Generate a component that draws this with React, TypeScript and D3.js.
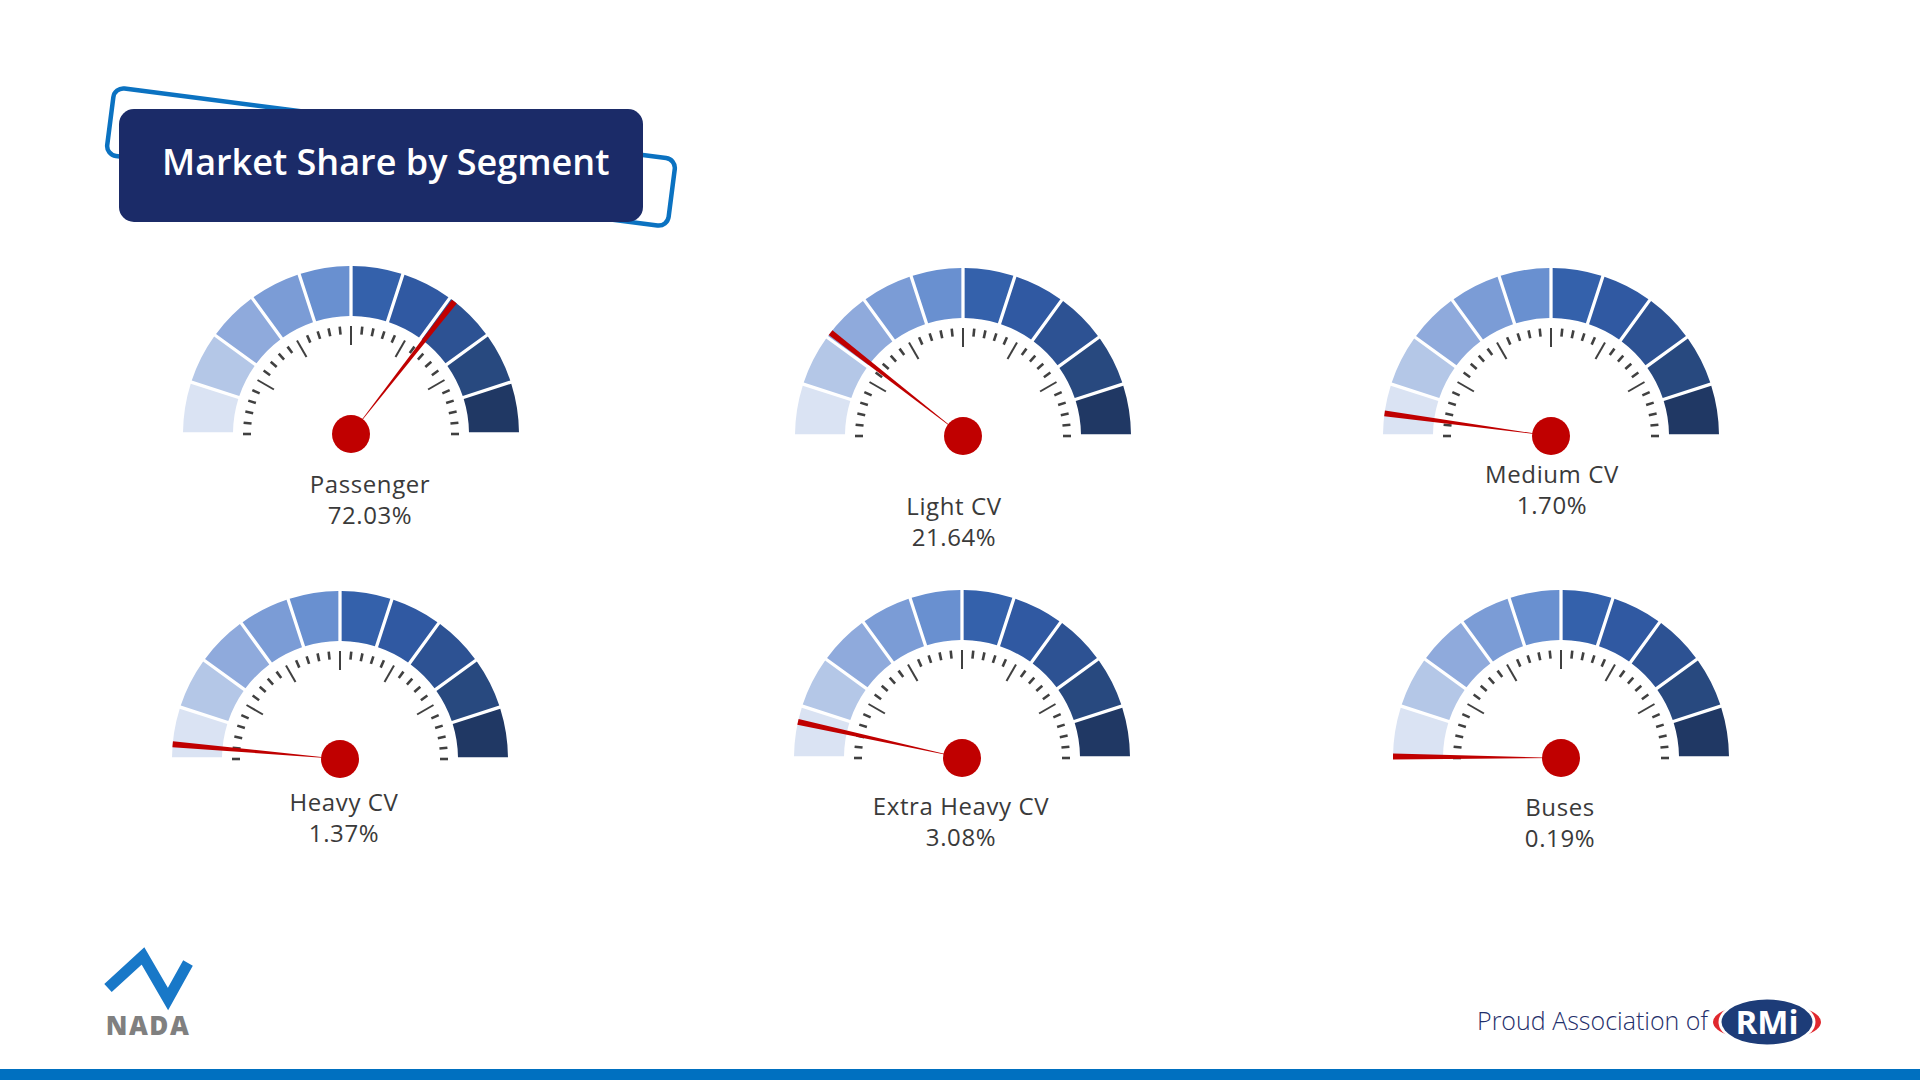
import React, { useEffect, useRef } from 'react';
import * as d3 from 'd3';

// segment names and their share of the market (label values)
const segments = ['Passenger', 'Light CV', 'Medium CV', 'Heavy CV', 'Extra Heavy CV', 'Buses'];
const shares = [72.03, 21.64, 1.7, 1.37, 3.08, 0.19];
// where each needle actually points on its dial (0–100 dial units)
const needleReadings = [71.1, 21.1, 4.3, 2.8, 6.9, 0.3];

const bandColours = [
  '#dae3f3', '#b4c7e7', '#8faadc', '#7b9cd6', '#6990d0',
  '#3461ab', '#3059a2', '#2d5293', '#28497f', '#203864',
];

// dial placement on the slide (layout only)
const dials = [
  { cx: 351, cy: 434, lx: 370, ly: 493 },
  { cx: 963, cy: 436, lx: 954, ly: 515 },
  { cx: 1551, cy: 436, lx: 1552, ly: 483 },
  { cx: 340, cy: 759, lx: 344, ly: 811 },
  { cx: 962, cy: 758, lx: 961, ly: 815 },
  { cx: 1561, cy: 758, lx: 1560, ly: 816 },
];

const W = 1920;
const H = 1080;
const font = '"Open Sans", "Noto Sans", sans-serif';

function Slide() {
  const root = useRef<HTMLDivElement>(null);

  useEffect(() => {
    const createSVG = () => {
      const svg = d3
        .create('svg')
        .attr('viewBox', `0 0 ${W} ${H}`)
        .attr('width', W)
        .attr('height', H)
        .style('position', 'absolute')
        .style('left', 0)
        .style('top', 0)
        .style('background', '#ffffff');

      // title block
      svg
        .append('rect')
        .attr('x', -283)
        .attr('y', -34)
        .attr('width', 566)
        .attr('height', 68)
        .attr('rx', 10)
        .attr('fill', 'none')
        .attr('stroke', '#0b72c1')
        .attr('stroke-width', 4.5)
        .attr('transform', 'translate(391,157) rotate(7.3)');

      svg
        .append('rect')
        .attr('x', 119)
        .attr('y', 109)
        .attr('width', 524)
        .attr('height', 113)
        .attr('rx', 15)
        .attr('fill', '#1b2b68');

      svg
        .append('text')
        .attr('x', 162)
        .attr('y', 175)
        .attr('fill', '#ffffff')
        .attr('font-family', font)
        .attr('font-size', 36)
        .attr('font-weight', 600)
        .text('Market Share by Segment');

      // gauges
      const angle = d3.scaleLinear().domain([0, 100]).range([-Math.PI / 2, Math.PI / 2]);
      const step = 100 / bandColours.length;

      const band = d3.arc<{ startAngle: number; endAngle: number }>()
        .innerRadius(118)
        .outerRadius(168)
        .padAngle(0.016);

      const needle = d3.arc<{ startAngle: number; endAngle: number }>()
        .innerRadius(0)
        .outerRadius(168);

      const ticks = d3.range(0, 31).map(i => ({ v: (i * 100) / 30, major: i % 5 === 0 && i > 0 && i < 30 }));

      segments.forEach((name, k) => {
        const d = dials[k];
        const g = svg.append('g').attr('transform', `translate(${d.cx},${d.cy})`);

        g.selectAll('path.band')
          .data(bandColours)
          .join('path')
          .attr('class', 'band')
          .attr('fill', c => c)
          .attr('d', (_, i) => band({ startAngle: angle(i * step), endAngle: angle((i + 1) * step) }));

        g.selectAll('line.tick')
          .data(ticks)
          .join('line')
          .attr('class', 'tick')
          .attr('x1', t => (t.major ? 89 : 100) * Math.sin(angle(t.v)))
          .attr('y1', t => -(t.major ? 89 : 100) * Math.cos(angle(t.v)))
          .attr('x2', t => 108 * Math.sin(angle(t.v)))
          .attr('y2', t => -108 * Math.cos(angle(t.v)))
          .attr('stroke', '#404040')
          .attr('stroke-width', t => (t.major ? 2 : 2.6));

        const a = angle(needleReadings[k]);
        g.append('path')
          .attr('fill', '#c00000')
          .attr('d', needle({ startAngle: a - 0.018, endAngle: a + 0.018 }));

        g.append('circle').attr('r', 19).attr('fill', '#c00000');

        const label = svg
          .append('text')
          .attr('text-anchor', 'middle')
          .attr('fill', '#3a3a3a')
          .attr('font-family', font)
          .attr('font-size', 24)
          .attr('font-weight', 500)
          .attr('letter-spacing', 0.6);
        label.append('tspan').attr('x', d.lx).attr('y', d.ly).text(name);
        label.append('tspan').attr('x', d.lx).attr('y', d.ly + 31).text(`${shares[k].toFixed(2)}%`);
      });

      // NADA logo
      svg
        .append('polyline')
        .attr('points', '108,988 143,956 168,999 188,963')
        .attr('fill', 'none')
        .attr('stroke', '#1878c8')
        .attr('stroke-width', 11)
        .attr('stroke-linejoin', 'miter')
        .attr('stroke-miterlimit', 6);

      svg
        .append('text')
        .attr('x', 148)
        .attr('y', 1035)
        .attr('text-anchor', 'middle')
        .attr('fill', '#808080')
        .attr('font-family', font)
        .attr('font-size', 26)
        .attr('font-weight', 800)
        .attr('letter-spacing', 1.5)
        .text('NADA');

      // footer
      svg
        .append('text')
        .attr('x', 1708)
        .attr('y', 1030)
        .attr('text-anchor', 'end')
        .attr('fill', '#1f2f6b')
        .attr('font-family', font)
        .attr('font-size', 25)
        .attr('font-weight', 300)
        .text('Proud Association of');

      const rmi = svg.append('g').attr('transform', 'translate(1767,1022)');
      rmi.append('ellipse').attr('rx', 54).attr('ry', 19).attr('fill', '#e0282e');
      rmi.append('ellipse').attr('rx', 48.5).attr('ry', 25).attr('fill', '#ffffff');
      rmi.append('ellipse').attr('rx', 45.5).attr('ry', 22.5).attr('fill', '#1d3c78');
      rmi
        .append('text')
        .attr('y', 12)
        .attr('text-anchor', 'middle')
        .attr('fill', '#ffffff')
        .attr('font-family', font)
        .attr('font-size', 33)
        .attr('font-weight', 700)
        .text('RMi');

      svg
        .append('rect')
        .attr('x', 0)
        .attr('y', 1069)
        .attr('width', W)
        .attr('height', H - 1069)
        .attr('fill', '#0070c0');

      return svg.node();
    };

    const rootNode = root.current;
    rootNode?.appendChild(createSVG() as Node);

    return () => {
      if (rootNode && rootNode.firstChild) {
        rootNode.removeChild(rootNode.firstChild);
      }
    };
  }, []);

  return <div ref={root} />;
}

export default function App() {
  return <Slide />;
}
